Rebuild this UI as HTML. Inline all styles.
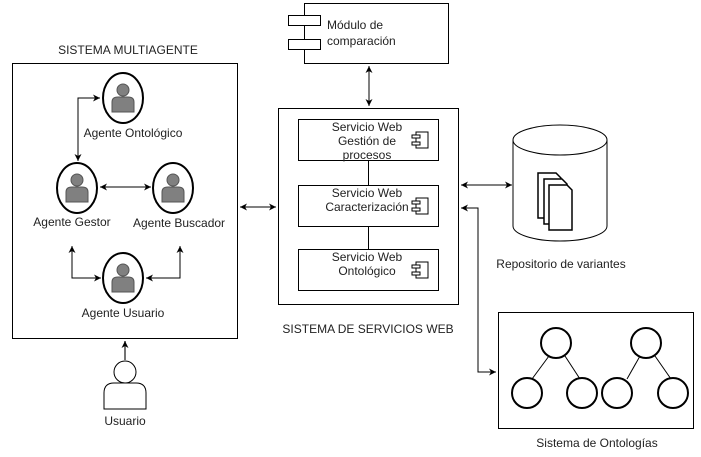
<!DOCTYPE html>
<html><head><meta charset="utf-8"><style>body{margin:0;background:#fff}svg{display:block}text{font-family:"Liberation Sans",sans-serif;font-size:12px;fill:#222}</style></head><body>
<svg width="701" height="457" viewBox="0 0 701 457" xmlns="http://www.w3.org/2000/svg">
<defs>
<marker id="a" markerWidth="8" markerHeight="8" refX="7" refY="4" orient="auto-start-reverse" markerUnits="userSpaceOnUse"><path d="M0,0.5 L7,4 L0,7.5 L2,4z" fill="#000"/></marker>
<g id="ag"><ellipse cx="0" cy="0" rx="20" ry="25" fill="#fff" stroke="#000" stroke-width="2"/><circle cx="0" cy="-8" r="6" fill="#808080" stroke="#555"/><path d="M-11,14 L-11,4 Q-11,-1 -5,-1 L5,-1 Q11,-1 11,4 L11,14z" fill="#808080" stroke="#555"/></g>
<g id="cp"><rect x="-8" y="-8" width="12" height="16" fill="#fff" stroke="#000"/><rect x="-12" y="-5" width="8" height="3" fill="#fff" stroke="#000"/><rect x="-12" y="2" width="8" height="3" fill="#fff" stroke="#000"/></g>
</defs>
<g fill="none" stroke="#000">
<rect x="12.5" y="63.5" width="225" height="275"/>
<rect x="278.5" y="108.5" width="180" height="196"/>
<rect x="298.5" y="119.5" width="140" height="41"/>
<rect x="298.5" y="185.5" width="140" height="41"/>
<rect x="298.5" y="249.5" width="140" height="41"/>
<line x1="368.5" y1="160" x2="368.5" y2="185"/><line x1="368.5" y1="226" x2="368.5" y2="249"/>
<rect x="304.5" y="3.5" width="144" height="60"/>
<rect x="498.5" y="312.5" width="195" height="116"/>
</g>
<rect x="288.5" y="15.5" width="32" height="10" fill="#fff" stroke="#000"/>
<rect x="288.5" y="39.5" width="32" height="10" fill="#fff" stroke="#000"/>
<use href="#cp" x="424" y="140"/><use href="#cp" x="424" y="206"/><use href="#cp" x="424" y="270"/>
<g fill="none" stroke="#000" stroke-width="1">
<polyline points="101,38 78,38 78,98" transform="translate(0,0)" style="display:none"/>
<polyline points="100,98 78,98 78,161" marker-start="url(#a)" marker-end="url(#a)"/>
<line x1="100" y1="187" x2="151" y2="187" marker-start="url(#a)" marker-end="url(#a)"/>
<polyline points="72,246 72,278 101,278" marker-start="url(#a)" marker-end="url(#a)"/>
<polyline points="180,246 180,278 146,278" marker-start="url(#a)" marker-end="url(#a)"/>
<line x1="240" y1="207" x2="276" y2="207" marker-start="url(#a)" marker-end="url(#a)"/>
<line x1="369" y1="66" x2="369" y2="106" marker-start="url(#a)" marker-end="url(#a)"/>
<line x1="461" y1="185" x2="512" y2="185" marker-start="url(#a)" marker-end="url(#a)"/>
<polyline points="461,208 478,208 478,372 496,372" marker-start="url(#a)" marker-end="url(#a)"/>
<line x1="125" y1="360" x2="125" y2="341" stroke="#444" stroke-width="1.5" marker-end="url(#a)"/>
</g>
<use href="#ag" x="123" y="98"/><use href="#ag" x="77" y="188"/><use href="#ag" x="173" y="188"/><use href="#ag" x="123" y="278"/>
<circle cx="125" cy="372" r="11" fill="#fff" stroke="#000"/>
<path d="M104,409 L104,393 Q104,383 114,383 L136,383 Q146,383 146,393 L146,409z" fill="#fff" stroke="#000"/>
<path d="M513,140 L513,226 A47,15 0 0 0 607,226 L607,140" fill="#fff" stroke="#000"/>
<ellipse cx="560" cy="140" rx="47" ry="15" fill="#fff" stroke="#000"/>
<g fill="#fff" stroke="#000" stroke-width="1.5">
<path d="M538,173 L556,173 L561,178 L561,218 L538,218z"/>
<path d="M544,179 L562,179 L567,184 L567,224 L544,224z"/>
<path d="M549,185 L567,185 L572,190 L572,230 L549,230z"/>
</g>
<g fill="#fff" stroke="#000" stroke-width="2">
<line x1="549" y1="356" x2="532" y2="379" stroke-width="1"/><line x1="565" y1="356" x2="580" y2="379" stroke-width="1"/>
<line x1="640" y1="356" x2="627" y2="379" stroke-width="1"/><line x1="655" y1="356" x2="671" y2="379" stroke-width="1"/>
<circle cx="556" cy="343" r="15"/><circle cx="527" cy="393" r="15"/><circle cx="582" cy="393" r="15"/>
<circle cx="646" cy="343" r="15"/><circle cx="617" cy="393" r="15"/><circle cx="673" cy="393" r="15"/>
</g>
<g text-anchor="middle">
<text x="128" y="54">SISTEMA MULTIAGENTE</text>
<text x="133" y="137">Agente Ontológico</text>
<text x="72" y="226">Agente Gestor</text>
<text x="179" y="227">Agente Buscador</text>
<text x="123" y="317">Agente Usuario</text>
<text x="125" y="425">Usuario</text>
<text x="368" y="333">SISTEMA DE SERVICIOS WEB</text>
<text x="367" y="131">Servicio Web</text><text x="367" y="145">Gestión de</text><text x="367" y="159">procesos</text>
<text x="367" y="197">Servicio Web</text><text x="367" y="211">Caracterización</text>
<text x="367" y="261">Servicio Web</text><text x="367" y="275">Ontológico</text>
<text x="561" y="268">Repositorio de variantes</text>
<text x="597" y="447">Sistema de Ontologías</text>
</g>
<text x="327" y="29">Módulo de</text><text x="327" y="45">comparación</text>
</svg>
</body></html>
